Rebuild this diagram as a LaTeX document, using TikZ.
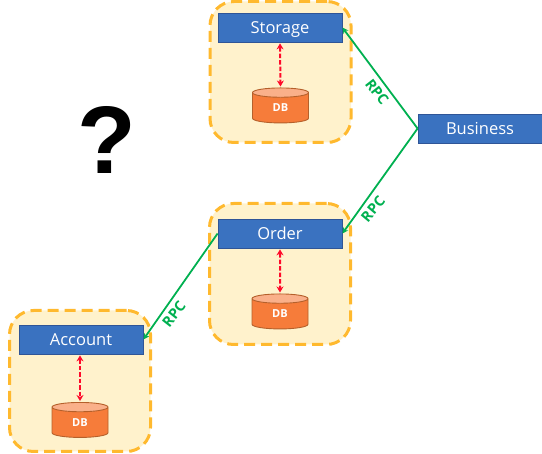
\documentclass[tikz,border=0pt]{standalone}
\usepackage{fontspec}
\setmainfont{Open Sans}
\newfontfamily\qfont{Liberation Sans}
\usetikzlibrary{shapes.geometric,arrows.meta}
\definecolor{boxblue}{HTML}{3A72C0}
\definecolor{boxedge}{HTML}{2F5597}
\definecolor{grpfill}{HTML}{FFF2CC}
\definecolor{grpedge}{HTML}{FFB92E}
\definecolor{dbfill}{HTML}{F67C3A}
\definecolor{dbtop}{HTML}{FAB08A}
\definecolor{dbedge}{HTML}{B5602B}
\definecolor{rpcgreen}{HTML}{00B050}
\definecolor{dbred}{HTML}{FF0A2A}
\tikzset{
  group/.style={draw=grpedge,fill=grpfill,line width=3pt,rounded corners=24pt,
    dash pattern=on 11pt off 6pt,minimum width=141pt,minimum height=141pt,inner sep=0pt},
  svc/.style={draw=boxedge,fill=boxblue,line width=0.8pt,text=white,minimum width=124pt,
    minimum height=29pt,inner sep=0pt,text height=12pt,text depth=0pt,
    font=\fontsize{16.5}{18}\selectfont},
  db/.style={cylinder,shape border rotate=90,aspect=0.6,draw=dbedge,line width=0.9pt,
    cylinder uses custom fill,cylinder body fill=dbfill,cylinder end fill=dbtop,
    minimum width=56pt,minimum height=35pt,inner sep=0pt,text=white,
    font=\fontsize{11}{12}\selectfont\bfseries},
  link/.style={draw=dbred,line width=2pt,dash pattern=on 4.5pt off 2pt,
    {Stealth[length=6pt,width=7pt]}-{Stealth[length=6pt,width=7pt]},shorten <=1pt,shorten >=1pt},
  rpc/.style={draw=rpcgreen,line width=1.8pt,-{Stealth[length=6pt,width=6pt]}},
  rpclabel/.style={text=rpcgreen,inner sep=0pt,font=\fontsize{14.5}{16}\selectfont\bfseries},
  mark text/.style={inner sep=0pt,font=\qfont\fontsize{96}{100}\selectfont\bfseries}
}
\begin{document}
\begin{tikzpicture}[x=1pt,y=-1pt]
\useasboundingbox (0,0) rectangle (542,454);
\node[group] (gs) at (280.5,72) {};
\node[group] (go) at (280,274) {};
\node[group] (ga) at (80,381) {};
\node[svc] (storage) at (280,27.5) {Storage};
\node[svc] (order) at (280,233.5) {Order};
\node[svc] (account) at (81,339.5) {Account};
\node[svc] (business) at (480,128.5) {Business};
\node[db] (dbs) at (280.5,108) {DB};
\node[db] (dbo) at (280,314) {DB};
\node[db] (dba) at (80,422.5) {DB};
\draw[link] (storage.south) -- (dbs.north);
\draw[link] (order.south) -- (dbo.north);
\draw[link] (account.south -| dba.north) -- (dba.north);
\draw[rpc] (business.west) -- (storage.east);
\draw[rpc] (business.west) -- (order.east);
\draw[rpc] (order.west) -- (account.east);
\node[rpclabel,rotate=-52] (r1) at (377,92) {RPC};
\node[rpclabel,rotate=50] (r2) at (373,209) {RPC};
\node[rpclabel,rotate=52] (r3) at (174,314) {RPC};
\node[mark text] (q) at (106.5,139.5) {?};
\end{tikzpicture}
\end{document}
